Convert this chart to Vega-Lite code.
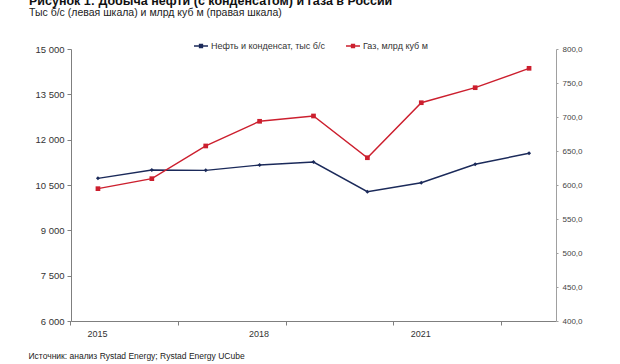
{
  "$schema": "https://vega.github.io/schema/vega-lite/v6.json",
  "width": 485,
  "height": 272,
  "autosize": "none",
  "padding": {"left": 71, "top": 49, "right": 64, "bottom": 43},
  "background": "white",
  "config": {
    "view": {"stroke": null},
    "font": "Liberation Sans",
    "axis": {"grid": false, "domainColor": "#7f7f7f", "tickColor": "#7f7f7f", "labelColor": "#333333", "labelFont": "Liberation Sans", "titleFont": "Liberation Sans"},
    "legend": {"labelFont": "Liberation Sans"}
  },
  "title": {
    "text": "Рисунок 1: Добыча нефти (с конденсатом) и газа в России",
    "subtitle": "Тыс б/с (левая шкала) и млрд куб м (правая шкала)",
    "anchor": "start",
    "frame": "group",
    "dx": -42,
    "offset": 20,
    "font": "Liberation Sans",
    "fontSize": 12.5,
    "fontWeight": "bold",
    "color": "#111111",
    "subtitleFont": "Liberation Sans",
    "subtitleFontSize": 10.5,
    "subtitleColor": "#222222",
    "subtitlePadding": 0
  },
  "data": {
    "values": [
      {"year": 2015, "oil": 10720, "gas": 594.6},
      {"year": 2016, "oil": 10995, "gas": 609.3},
      {"year": 2017, "oil": 10985, "gas": 657.4},
      {"year": 2018, "oil": 11160, "gas": 693.7},
      {"year": 2019, "oil": 11260, "gas": 701.5},
      {"year": 2020, "oil": 10280, "gas": 640.1},
      {"year": 2021, "oil": 10575, "gas": 721.0},
      {"year": 2022, "oil": 11185, "gas": 743.1},
      {"year": 2023, "oil": 11550, "gas": 771.6}
    ]
  },
  "encoding": {
    "x": {
      "field": "year",
      "type": "quantitative",
      "scale": {"domain": [2014.5, 2023.5], "nice": false, "zero": false},
      "axis": {
        "values": [2014.5, 2015, 2016.5, 2018, 2018.5, 2020.5, 2021, 2022.5],
        "labelExpr": "datum.value % 1 == 0 ? toString(datum.value) : ''",
        "tickOpacity": {"condition": {"test": "datum.value % 1 != 0", "value": 1}, "value": 0},
        "tickSize": 4,
        "tickOffset": -1,
        "labelFontSize": 9,
        "labelPadding": 4,
        "title": "Источник: анализ Rystad Energy; Rystad Energy UCube",
        "titleFontSize": 8.5,
        "titleFontWeight": "normal",
        "titleColor": "#222222",
        "titleAnchor": "start",
        "titleAlign": "left",
        "titleBaseline": "middle",
        "titleX": -43,
        "titleY": 34
      }
    }
  },
  "layer": [
    {
      "encoding": {
        "y": {
          "field": "oil",
          "type": "quantitative",
          "scale": {"domain": [6000, 15000], "nice": false, "zero": false},
          "axis": {
            "values": [6000, 7500, 9000, 10500, 12000, 13500, 15000],
            "labelExpr": "replace(format(datum.value, ','), ',', ' ')",
            "labelFontSize": 9.5,
            "tickSize": 4,
            "labelPadding": 3,
            "title": null
          }
        }
      },
      "layer": [
        {
          "mark": {"type": "line", "strokeWidth": 1.4},
          "encoding": {
            "color": {
              "datum": "Нефть и конденсат, тыс б/с",
              "type": "nominal",
              "scale": {"domain": ["Нефть и конденсат, тыс б/с", "Газ, млрд куб м"], "range": ["#1b2a5a", "#cc1f2e"]},
              "legend": {
                "title": null,
                "orient": "none",
                "direction": "horizontal",
                "legendX": 122,
                "legendY": -11,
                "labelFontSize": 9,
                "labelColor": "#333333",
                "symbolSize": 196,
                "symbolType": "M-1,0L1,0M-0.2,-0.2L0.2,-0.2L0.2,0.2L-0.2,0.2Z",
                "symbolStrokeWidth": 1.5,
                "columnPadding": 18,
                "labelOffset": 2
              }
            }
          }
        },
        {"mark": {"type": "point", "shape": "diamond", "filled": true, "size": 16, "opacity": 1, "color": "#1b2a5a"}}
      ]
    },
    {
      "encoding": {
        "y": {
          "field": "gas",
          "type": "quantitative",
          "scale": {"domain": [400, 800], "nice": false, "zero": false},
          "axis": {
            "orient": "right",
            "values": [400, 450, 500, 550, 600, 650, 700, 750, 800],
            "labelExpr": "replace(format(datum.value, '.1f'), '.', ',')",
            "labelFontSize": 8,
            "labelColor": "#444444",
            "domainColor": "#a0a0a0",
            "tickColor": "#a0a0a0",
            "tickSize": 2,
            "labelPadding": 4,
            "title": null
          }
        }
      },
      "layer": [
        {
          "mark": {"type": "line", "strokeWidth": 1.4},
          "encoding": {
            "color": {"datum": "Газ, млрд куб м", "type": "nominal"}
          }
        },
        {"mark": {"type": "point", "shape": "square", "filled": true, "size": 22, "opacity": 1, "color": "#cc1f2e"}}
      ]
    }
  ],
  "resolve": {"scale": {"y": "independent"}}
}
